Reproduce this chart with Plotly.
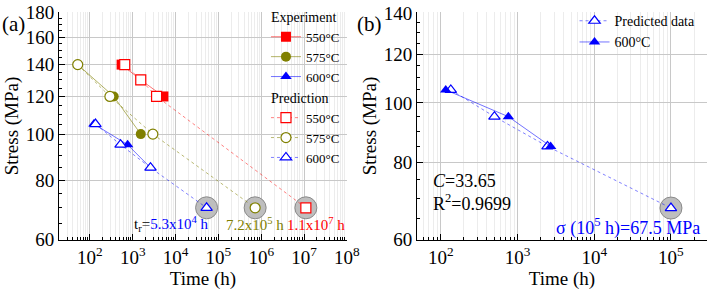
import plotly.graph_objects as go
import numpy as np

# ---------------- data ----------------
# Panel (a) experiment
exp550_t = [550, 1540, 5200]
exp550_s = [140, 130, 120]
exp575_t = [52, 360, 1540]
exp575_s = [140, 120, 100]
exp600_t = [124, 760, 2600]
exp600_s = [105, 95, 85]
# Panel (a) prediction (last point = extrapolation)
pre550_t = [650, 1540, 3600, 1.1e7]
pre550_s = [140, 130, 120, 70]
pre575_t = [52, 293, 2950, 7.2e5]
pre575_s = [140, 120, 100, 70]
pre600_t = [135, 520, 2600, 5.3e4]
pre600_s = [105, 95, 85, 70]
labels_a = ["5.3x10<sup>4</sup> h", "7.2x10<sup>5</sup> h", "1.1x10<sup>7</sup> h"]

# Panel (b)
b_exp_t = [116, 760, 2700]
b_exp_s = [105, 95, 85]
b_pre_t = [135, 500, 2460, 1e5]
b_pre_s = [105, 95, 85, 67.5]

x_tick_pow_a = [2, 3, 4, 5, 6, 7, 8]
x_tick_pow_b = [2, 3, 4, 5]
y_ticks_a = [60, 80, 100, 120, 140, 160, 180]
y_ticks_b = [60, 80, 100, 120, 140]

RED = "#FF0000"
OLIVE = "#808000"
BLUE = "#0000FF"
FONT = "Liberation Serif, Times New Roman, serif"

fig = go.Figure()

def minor_x(lo, hi):
    v = []
    for p in range(lo, hi + 1):
        for m in range(2, 10):
            v.append(m * 10 ** p)
    return v

HALO = dict(size=22, color="#BEBEBE", line=dict(color="#8A8A8A", width=1))

# -------- panel (a) --------
fig.add_trace(go.Scatter(
    x=[pre600_t[-1], pre575_t[-1], pre550_t[-1]],
    y=[pre600_s[-1], pre575_s[-1], pre550_s[-1]],
    mode="markers", showlegend=False, hoverinfo="skip",
    marker=HALO, xaxis="x", yaxis="y"))

gt_font = dict(size=14, family=FONT, color="black")

for t, s, col, sym, nm, lc in [
        (exp550_t, exp550_s, RED, "square", "550°C", "rgba(255,0,0,0.55)"),
        (exp575_t, exp575_s, OLIVE, "circle", "575°C", "rgba(128,128,0,0.6)"),
        (exp600_t, exp600_s, BLUE, "triangle-up", "600°C", "rgba(0,0,255,0.55)")]:
    fig.add_trace(go.Scatter(
        x=t, y=s, mode="lines+markers", name=nm,
        legendgroup="exp", legendgrouptitle=dict(text="Experiment", font=gt_font),
        line=dict(color=lc, width=1),
        marker=dict(symbol=sym, size=10, color=col),
        xaxis="x", yaxis="y", legend="legend"))

for t, s, col, sym, nm, lc in [
        (pre550_t, pre550_s, RED, "square", "550°C", "rgba(255,0,0,0.5)"),
        (pre575_t, pre575_s, OLIVE, "circle", "575°C", "rgba(128,128,0,0.55)"),
        (pre600_t, pre600_s, BLUE, "triangle-up", "600°C", "rgba(0,0,255,0.5)")]:
    fig.add_trace(go.Scatter(
        x=t, y=s, mode="lines+markers", name=nm,
        legendgroup="pred", legendgrouptitle=dict(text="Prediction", font=gt_font),
        line=dict(color=lc, width=1, dash="dot"),
        marker=dict(symbol=sym, size=10, color="white", line=dict(color=col, width=1.2)),
        xaxis="x", yaxis="y", legend="legend"))

# -------- panel (b) --------
fig.add_trace(go.Scatter(
    x=[b_pre_t[-1]], y=[b_pre_s[-1]], mode="markers", showlegend=False, hoverinfo="skip",
    marker=HALO, xaxis="x2", yaxis="y2"))
fig.add_trace(go.Scatter(
    x=b_pre_t, y=b_pre_s, mode="lines+markers", name="Predicted data",
    line=dict(color="rgba(0,0,255,0.5)", width=1, dash="dot"),
    marker=dict(symbol="triangle-up", size=10, color="white", line=dict(color=BLUE, width=1.2)),
    xaxis="x2", yaxis="y2", legend="legend2"))
fig.add_trace(go.Scatter(
    x=b_exp_t, y=b_exp_s, mode="lines+markers", name="600°C",
    line=dict(color="rgba(0,0,255,0.55)", width=1),
    marker=dict(symbol="triangle-up", size=10, color=BLUE),
    xaxis="x2", yaxis="y2", legend="legend2"))

tickfont = dict(family=FONT, size=19, color="black")
titlefont = dict(family=FONT, size=19, color="black")

def xaxis(dom, rng, pows, anchor):
    return dict(type="log", domain=dom, range=rng, anchor=anchor,
                tickvals=[10 ** p for p in pows], ticktext=[f"10<sup>{p}</sup>" for p in pows],
                ticks="inside", ticklen=6, tickcolor="black", showline=True, linecolor="black", linewidth=1,
                showgrid=True, gridcolor="#C8C8C8", gridwidth=1, zeroline=False,
                minor=dict(tickvals=minor_x(1, 8), ticks="inside", ticklen=3, tickcolor="black",
                           showgrid=True, gridcolor="#ECECEC", gridwidth=1),
                tickfont=tickfont, title=dict(text="Time (h)", font=titlefont, standoff=4),
                automargin=False)

def yaxis(dom, rng, ticks, anchor):
    return dict(type="log", domain=dom, range=rng, anchor=anchor,
                tickvals=ticks, ticktext=[str(v) for v in ticks],
                ticks="inside", ticklen=6, tickcolor="black", showline=True, linecolor="black", linewidth=1,
                showgrid=True, gridcolor="#C8C8C8", gridwidth=1, zeroline=False,
                minor=dict(tickvals=list(range(60, 181, 5)), ticks="inside", ticklen=3, tickcolor="black", showgrid=False),
                tickfont=tickfont, title=dict(text="Stress (MPa)", font=titlefont, standoff=2),
                automargin=False)

fig.update_layout(
    width=708, height=295,
    margin=dict(l=59, r=1, t=7, b=55),
    paper_bgcolor="white", plot_bgcolor="white",
    font=dict(family=FONT, color="black"),
    xaxis=xaxis([0, 0.4444], [np.log10(19), 8.001], x_tick_pow_a, "y"),
    yaxis=yaxis([0, 1], [np.log10(59.9), np.log10(180.6)], y_ticks_a, "x"),
    xaxis2=xaxis([0.5525, 1.0], [np.log10(49), np.log10(2.95e5)], x_tick_pow_b, "y2"),
    yaxis2=yaxis([0, 1], [np.log10(59.9), np.log10(140.5)], y_ticks_b, "x2"),
    legend=dict(x=0.4444, xanchor="right", y=1.05, yanchor="top", bgcolor="rgba(255,255,255,0)",
                font=dict(family=FONT, size=13, color="black"), traceorder="grouped",
                tracegroupgap=0, itemwidth=30, maxheight=400),
    legend2=dict(x=0.99, xanchor="right", y=1.03, yanchor="top", bgcolor="rgba(255,255,255,0)",
                 font=dict(family=FONT, size=14, color="black"), itemwidth=30),
    showlegend=True,
)

ann = [
    dict(text="(a)", x=-0.091, y=1.01, xref="paper", yref="paper", xanchor="left", yanchor="top",
         showarrow=False, font=dict(family=FONT, size=21)),
    dict(text="(b)", x=0.457, y=1.01, xref="paper", yref="paper", xanchor="left", yanchor="top",
         showarrow=False, font=dict(family=FONT, size=21)),
    dict(text="t<sub>r</sub>=<span style='color:#0000FF'>" + labels_a[0] + "</span>",
         x=np.log10(pre600_t[-1]), y=np.log10(pre600_s[-1]), xref="x", yref="y", xanchor="right", yanchor="middle",
         yshift=-16, xshift=3, showarrow=False, font=dict(family=FONT, size=15, color="black")),
    dict(text=labels_a[1], x=np.log10(pre575_t[-1]), y=np.log10(pre575_s[-1]), xref="x", yref="y",
         xanchor="center", yanchor="middle", yshift=-16, showarrow=False, font=dict(family=FONT, size=15, color=OLIVE)),
    dict(text=labels_a[2], x=np.log10(pre550_t[-1]), y=np.log10(pre550_s[-1]), xref="x", yref="y",
         xanchor="center", yanchor="middle", yshift=-16, xshift=10, showarrow=False, font=dict(family=FONT, size=15, color=RED)),
    dict(text="<i>C</i>=33.65", x=0.574, y=0.26, xref="paper", yref="paper", xanchor="left", yanchor="middle",
         showarrow=False, font=dict(family=FONT, size=18, color="black")),
    dict(text="R<sup>2</sup>=0.9699", x=0.574, y=0.165, xref="paper", yref="paper", xanchor="left", yanchor="middle",
         showarrow=False, font=dict(family=FONT, size=18, color="black")),
    dict(text="σ (10<sup>5</sup> h)=67.5 MPa", x=0.992, y=0.055, xref="paper", yref="paper", xanchor="right",
         yanchor="middle", showarrow=False, font=dict(family=FONT, size=18, color=BLUE)),
]
fig.update_layout(annotations=ann)

fig.write_html("out.html", config={"displayModeBar": False},
               post_script="document.body.style.margin='0';document.body.style.padding='0';")
